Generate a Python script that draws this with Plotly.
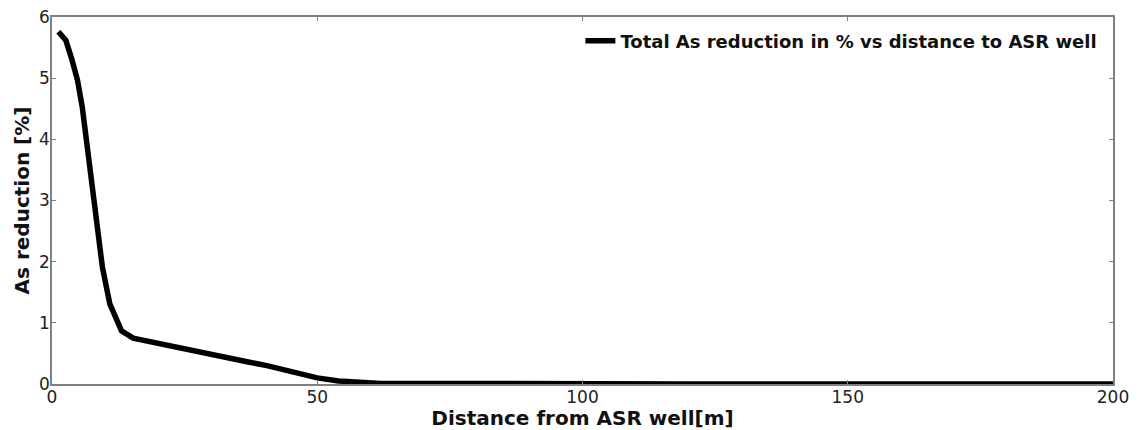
import plotly.graph_objects as go

# Distance from the ASR well [m] and total As reduction [%]
distance_m = [1.2, 2.6, 3.7, 4.8, 5.7, 6.7, 7.7, 8.6, 9.5, 10.9, 13.1, 15.3,
              19, 23, 26, 30, 33, 37, 40.5, 45.5, 50, 54, 58, 62, 70, 80,
              100, 120, 150, 200]
as_reduction = [5.76, 5.62, 5.32, 4.97, 4.53, 3.87, 3.22, 2.51, 1.91, 1.31,
                0.87, 0.75, 0.68, 0.62, 0.57, 0.49, 0.43, 0.36, 0.30, 0.19,
                0.10, 0.05, 0.02, 0.01, 0.01, 0.005, 0.0, 0.0, 0.0, 0.0]

x_ticks = [0, 50, 100, 150, 200]
y_ticks = [0, 1, 2, 3, 4, 5, 6]

series_name = "Total As reduction in % vs distance to ASR well"

FONT = "DejaVu Sans"
AXIS_GRAY = "#808080"

fig = go.Figure()
fig.add_trace(go.Scatter(
    x=distance_m, y=as_reduction, mode="lines",
    name=f"<b>{series_name}</b>",
    line=dict(color="black", width=5.5),
    showlegend=True,
))

axis_common = dict(
    showline=True, linecolor=AXIS_GRAY, linewidth=1.5, mirror="ticks",
    ticks="inside", ticklen=4, tickwidth=1, tickcolor=AXIS_GRAY,
    showgrid=False, zeroline=False, automargin=False,
    tickfont=dict(family=FONT, size=17, color="#222222"),
)

fig.update_xaxes(
    range=[0, 200], tickvals=x_ticks, ticktext=[str(v) for v in x_ticks],
    ticklabelstandoff=-3,
    title=dict(text="<b>Distance from ASR well[m]</b>", standoff=4,
               font=dict(family=FONT, size=20, color="#111111")),
    **axis_common,
)
fig.update_yaxes(
    range=[0, 6], tickvals=y_ticks, ticktext=[str(v) for v in y_ticks],
    ticklabelstandoff=-3,
    title=dict(text="<b>As reduction [%]</b>", standoff=4,
               font=dict(family=FONT, size=20, color="#111111")),
    **axis_common,
)

fig.update_layout(
    width=1145, height=430,
    margin=dict(l=52, r=32, t=17, b=46),
    plot_bgcolor="white", paper_bgcolor="white",
    font=dict(family=FONT, color="#111111"),
    legend=dict(x=0.99, xanchor="right", y=0.985, yanchor="top",
                bgcolor="rgba(0,0,0,0)", borderwidth=0,
                font=dict(family=FONT, size=18, color="#111111")),
)

fig.write_html("out.html")
